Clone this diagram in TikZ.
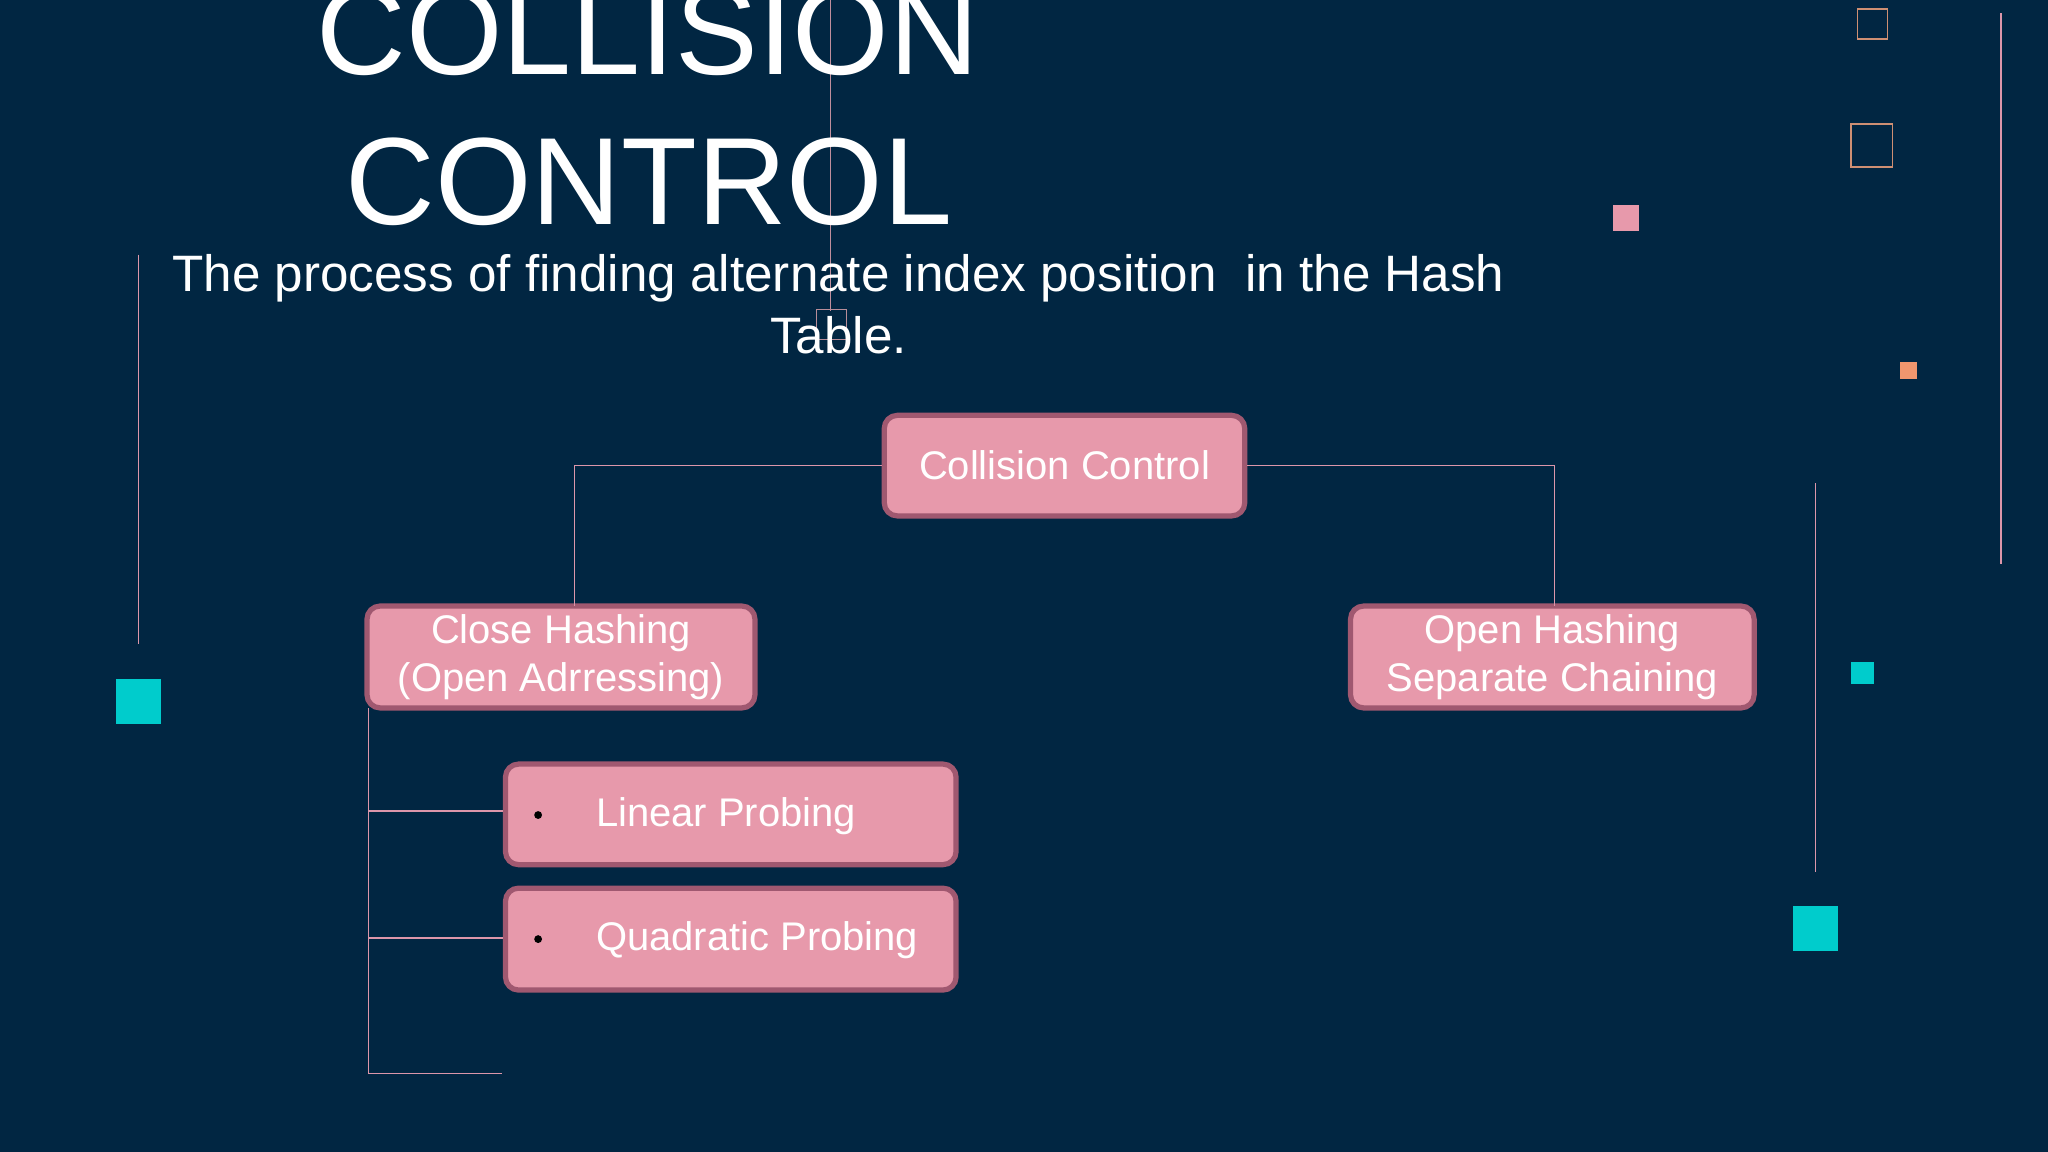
\documentclass[tikz,border=0pt]{standalone}
\usepackage{fontspec}
\setmainfont{Liberation Sans}
\begin{document}
\begin{tikzpicture}[x=0.5pt,y=-0.5pt]
\definecolor{bg}{RGB}{1,38,66}
\definecolor{boxf}{RGB}{231,153,171}
\definecolor{boxd}{RGB}{160,88,112}
\definecolor{ln}{RGB}{220,150,170}
\definecolor{cy}{RGB}{0,204,204}
\definecolor{org}{RGB}{240,150,110}
\tikzset{
  bx/.style={draw=boxd,line width=2pt,fill=boxf,rounded corners=5pt,text=white,font=\fontsize{15.3}{18.5}\selectfont,align=center,inner sep=0pt},
  conn/.style={draw=ln,line width=0.6pt},
  deco/.style={draw=ln,line width=0.5pt}
}
\fill[bg] (0,0) rectangle (1568,882);
\useasboundingbox (0,0) rectangle (1568,882);
% decorations
\draw[deco,draw=ln!70!gray] (636,0) -- (636,238);
\draw[draw=ln!60!gray,line width=0.4pt] (625,237) rectangle (648,260);
\draw[deco] (106,195) -- (106,493);
\fill[cy] (89,520) rectangle (123,554);
\draw[draw=org!70!gray,line width=0.6pt] (1422,7) rectangle (1445,30);
\draw[draw=org!70!gray,line width=0.6pt] (1417,95) rectangle (1449,128);
\fill[boxf] (1235,157) rectangle (1255,177);
\fill[org] (1455,277) rectangle (1468,290);
\draw[deco] (1532,10) -- (1532,432);
\draw[deco] (1390,370) -- (1390,668);
\fill[cy] (1417,507) rectangle (1435,524);
\fill[cy] (1373,694) rectangle (1407,728);
% titles
\node[text=white,font=\fontsize{47.5}{48}\selectfont,anchor=base] (t1) at (496,57) {COLLISION};
\node[text=white,font=\fontsize{47.5}{48}\selectfont,anchor=base] (t2) at (497,172) {CONTROL};
\node[text=white,font=\fontsize{19.6}{23.5}\selectfont,align=center,anchor=north] (sub) at (642,188) {The process of finding alternate index position\ \ in the Hash\\Table.};
% boxes
\node[bx,minimum width=138pt,minimum height=38.5pt] (cc) at (815,356.5) {Collision Control};
\node[bx,minimum width=148.5pt,minimum height=39pt] (ch) at (429.5,503) {Close Hashing\\(Open Adrressing)};
\node[bx,minimum width=154.5pt,minimum height=39pt] (oh) at (1188.5,503) {Open Hashing\\Separate Chaining};
\node[bx,minimum width=172.5pt,minimum height=38.5pt] (lp) at (559.5,623.5) {};
\node[bx,minimum width=172.5pt,minimum height=39pt] (qp) at (559.5,719) {};
\node[text=white,font=\fontsize{15.3}{18.5}\selectfont,anchor=west,inner sep=0pt] (lpt) at (456,625) {Linear Probing};
\node[text=white,font=\fontsize{15.3}{18.5}\selectfont,anchor=west,inner sep=0pt] (qpt) at (456,720) {Quadratic Probing};
\fill[black] (412,624) circle (3);
\fill[black] (412,719) circle (3);
% connectors
\draw[conn] (cc.west) -- (440,356.5) -- (440,464);
\draw[conn] (cc.east) -- (1190,356.5) -- (1190,464);
\coordinate (e3) at (384,822);
\draw[conn] (282,542) -- (282,822) -- (e3);
\draw[conn] (282,621) -- (lp.west |- 282,621);
\draw[conn] (282,718) -- (qp.west |- 282,718);
\end{tikzpicture}
\end{document}
